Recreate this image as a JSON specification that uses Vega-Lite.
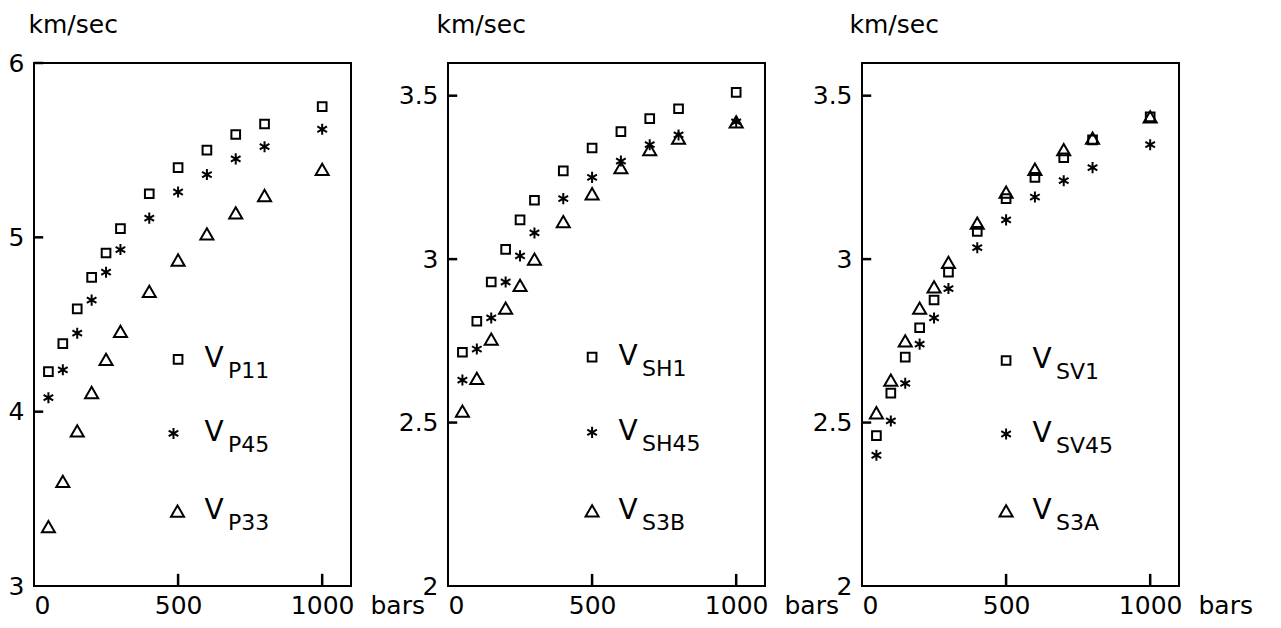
{
  "$schema": "https://vega.github.io/schema/vega-lite/v6.json",
  "background": "white",
  "padding": {"left": 7, "top": 11, "right": 5, "bottom": 5},
  "spacing": 97,
  "bounds": "flush",
  "config": {
    "font": "DejaVu Sans",
    "view": {"stroke": "black", "strokeWidth": 2},
    "axis": {
      "domain": false, "grid": false, "ticks": false,
      "labelFont": "DejaVu Sans", "labelFontSize": 25, "labelColor": "black",
      "titleFont": "DejaVu Sans", "titleFontSize": 25, "titleFontWeight": "normal", "titleColor": "black"
    }
  },
  "datasets": {
    "p1": [
      {"pressure": 50, "velocity": 4.23, "kind": "sq"}, {"pressure": 100, "velocity": 4.39, "kind": "sq"},
      {"pressure": 150, "velocity": 4.59, "kind": "sq"}, {"pressure": 200, "velocity": 4.77, "kind": "sq"},
      {"pressure": 250, "velocity": 4.91, "kind": "sq"}, {"pressure": 300, "velocity": 5.05, "kind": "sq"},
      {"pressure": 400, "velocity": 5.25, "kind": "sq"}, {"pressure": 500, "velocity": 5.40, "kind": "sq"},
      {"pressure": 600, "velocity": 5.50, "kind": "sq"}, {"pressure": 700, "velocity": 5.59, "kind": "sq"},
      {"pressure": 800, "velocity": 5.65, "kind": "sq"}, {"pressure": 1000, "velocity": 5.75, "kind": "sq"},
      {"pressure": 50, "velocity": 4.08, "kind": "st"}, {"pressure": 100, "velocity": 4.24, "kind": "st"},
      {"pressure": 150, "velocity": 4.45, "kind": "st"}, {"pressure": 200, "velocity": 4.64, "kind": "st"},
      {"pressure": 250, "velocity": 4.80, "kind": "st"}, {"pressure": 300, "velocity": 4.93, "kind": "st"},
      {"pressure": 400, "velocity": 5.11, "kind": "st"}, {"pressure": 500, "velocity": 5.26, "kind": "st"},
      {"pressure": 600, "velocity": 5.36, "kind": "st"}, {"pressure": 700, "velocity": 5.45, "kind": "st"},
      {"pressure": 800, "velocity": 5.52, "kind": "st"}, {"pressure": 1000, "velocity": 5.62, "kind": "st"},
      {"pressure": 50, "velocity": 3.34, "kind": "tr"}, {"pressure": 100, "velocity": 3.60, "kind": "tr"},
      {"pressure": 150, "velocity": 3.89, "kind": "tr"}, {"pressure": 200, "velocity": 4.11, "kind": "tr"},
      {"pressure": 250, "velocity": 4.30, "kind": "tr"}, {"pressure": 300, "velocity": 4.46, "kind": "tr"},
      {"pressure": 400, "velocity": 4.69, "kind": "tr"}, {"pressure": 500, "velocity": 4.87, "kind": "tr"},
      {"pressure": 600, "velocity": 5.02, "kind": "tr"}, {"pressure": 700, "velocity": 5.14, "kind": "tr"},
      {"pressure": 800, "velocity": 5.24, "kind": "tr"}, {"pressure": 1000, "velocity": 5.39, "kind": "tr"}
    ],
    "p2": [
      {"pressure": 50, "velocity": 2.715, "kind": "sq"}, {"pressure": 100, "velocity": 2.81, "kind": "sq"},
      {"pressure": 150, "velocity": 2.93, "kind": "sq"}, {"pressure": 200, "velocity": 3.03, "kind": "sq"},
      {"pressure": 250, "velocity": 3.12, "kind": "sq"}, {"pressure": 300, "velocity": 3.18, "kind": "sq"},
      {"pressure": 400, "velocity": 3.27, "kind": "sq"}, {"pressure": 500, "velocity": 3.34, "kind": "sq"},
      {"pressure": 600, "velocity": 3.39, "kind": "sq"}, {"pressure": 700, "velocity": 3.43, "kind": "sq"},
      {"pressure": 800, "velocity": 3.46, "kind": "sq"}, {"pressure": 1000, "velocity": 3.51, "kind": "sq"},
      {"pressure": 50, "velocity": 2.63, "kind": "st"}, {"pressure": 100, "velocity": 2.725, "kind": "st"},
      {"pressure": 150, "velocity": 2.82, "kind": "st"}, {"pressure": 200, "velocity": 2.93, "kind": "st"},
      {"pressure": 250, "velocity": 3.01, "kind": "st"}, {"pressure": 300, "velocity": 3.08, "kind": "st"},
      {"pressure": 400, "velocity": 3.185, "kind": "st"}, {"pressure": 500, "velocity": 3.25, "kind": "st"},
      {"pressure": 600, "velocity": 3.30, "kind": "st"}, {"pressure": 700, "velocity": 3.35, "kind": "st"},
      {"pressure": 800, "velocity": 3.38, "kind": "st"}, {"pressure": 1000, "velocity": 3.42, "kind": "st"},
      {"pressure": 50, "velocity": 2.535, "kind": "tr"}, {"pressure": 100, "velocity": 2.635, "kind": "tr"},
      {"pressure": 150, "velocity": 2.755, "kind": "tr"}, {"pressure": 200, "velocity": 2.85, "kind": "tr"},
      {"pressure": 250, "velocity": 2.92, "kind": "tr"}, {"pressure": 300, "velocity": 3.00, "kind": "tr"},
      {"pressure": 400, "velocity": 3.115, "kind": "tr"}, {"pressure": 500, "velocity": 3.20, "kind": "tr"},
      {"pressure": 600, "velocity": 3.28, "kind": "tr"}, {"pressure": 700, "velocity": 3.335, "kind": "tr"},
      {"pressure": 800, "velocity": 3.37, "kind": "tr"}, {"pressure": 1000, "velocity": 3.42, "kind": "tr"}
    ],
    "p3": [
      {"pressure": 50, "velocity": 2.46, "kind": "sq"}, {"pressure": 100, "velocity": 2.59, "kind": "sq"},
      {"pressure": 150, "velocity": 2.70, "kind": "sq"}, {"pressure": 200, "velocity": 2.79, "kind": "sq"},
      {"pressure": 250, "velocity": 2.875, "kind": "sq"}, {"pressure": 300, "velocity": 2.96, "kind": "sq"},
      {"pressure": 400, "velocity": 3.085, "kind": "sq"}, {"pressure": 500, "velocity": 3.185, "kind": "sq"},
      {"pressure": 600, "velocity": 3.25, "kind": "sq"}, {"pressure": 700, "velocity": 3.31, "kind": "sq"},
      {"pressure": 800, "velocity": 3.365, "kind": "sq"}, {"pressure": 1000, "velocity": 3.435, "kind": "sq"},
      {"pressure": 50, "velocity": 2.40, "kind": "st"}, {"pressure": 100, "velocity": 2.505, "kind": "st"},
      {"pressure": 150, "velocity": 2.62, "kind": "st"}, {"pressure": 200, "velocity": 2.74, "kind": "st"},
      {"pressure": 250, "velocity": 2.82, "kind": "st"}, {"pressure": 300, "velocity": 2.91, "kind": "st"},
      {"pressure": 400, "velocity": 3.035, "kind": "st"}, {"pressure": 500, "velocity": 3.12, "kind": "st"},
      {"pressure": 600, "velocity": 3.19, "kind": "st"}, {"pressure": 700, "velocity": 3.24, "kind": "st"},
      {"pressure": 800, "velocity": 3.28, "kind": "st"}, {"pressure": 1000, "velocity": 3.35, "kind": "st"},
      {"pressure": 50, "velocity": 2.53, "kind": "tr"}, {"pressure": 100, "velocity": 2.63, "kind": "tr"},
      {"pressure": 150, "velocity": 2.75, "kind": "tr"}, {"pressure": 200, "velocity": 2.85, "kind": "tr"},
      {"pressure": 250, "velocity": 2.915, "kind": "tr"}, {"pressure": 300, "velocity": 2.99, "kind": "tr"},
      {"pressure": 400, "velocity": 3.11, "kind": "tr"}, {"pressure": 500, "velocity": 3.205, "kind": "tr"},
      {"pressure": 600, "velocity": 3.275, "kind": "tr"}, {"pressure": 700, "velocity": 3.335, "kind": "tr"},
      {"pressure": 800, "velocity": 3.37, "kind": "tr"}, {"pressure": 1000, "velocity": 3.435, "kind": "tr"}
    ],
    "leg1": [
      {"kind": "sq", "mx": 500, "tx": 500, "y": 4.30, "sub": "P11"},
      {"kind": "st", "mx": 484, "tx": 500, "y": 3.875, "sub": "P45"},
      {"kind": "tr", "mx": 498, "tx": 500, "y": 3.43, "sub": "P33"}
    ],
    "leg2": [
      {"kind": "sq", "mx": 500, "tx": 500, "y": 2.70, "sub": "SH1"},
      {"kind": "st", "mx": 500, "tx": 500, "y": 2.47, "sub": "SH45"},
      {"kind": "tr", "mx": 500, "tx": 500, "y": 2.23, "sub": "S3B"}
    ],
    "leg3": [
      {"kind": "sq", "mx": 500, "tx": 500, "y": 2.69, "sub": "SV1"},
      {"kind": "st", "mx": 500, "tx": 500, "y": 2.465, "sub": "SV45"},
      {"kind": "tr", "mx": 500, "tx": 500, "y": 2.23, "sub": "S3A"}
    ],
    "yt1": [{"v": 4}, {"v": 5}, {"v": 6}],
    "yt23": [{"v": 2.5}, {"v": 3}, {"v": 3.5}],
    "xt": [{"v": 500}, {"v": 1000}]
  },
  "hconcat": [
    {
      "width": 317, "height": 523,
      "layer": [
        {
          "data": {"name": "p1"},
          "mark": {"type": "point", "filled": false, "stroke": "black", "strokeWidth": 2, "opacity": 1},
          "encoding": {
            "x": {"field": "pressure", "type": "quantitative", "scale": {"domain": [0, 1100], "nice": false},
                  "axis": {"values": [0, 500, 1000], "format": "d", "labelPadding": 7, "title": "bars", "titleX": 336, "titleY": 19, "titleAlign": "left", "titleBaseline": "middle"}},
            "y": {"field": "velocity", "type": "quantitative", "scale": {"domain": [3, 6], "nice": false, "zero": false},
                  "axis": {"values": [3, 4, 5, 6], "format": "~g", "labelPadding": 10, "title": "km/sec", "titleAngle": 0, "titleAlign": "left", "titleBaseline": "middle", "titleX": -6, "titleY": -39}},
            "shape": {"field": "kind", "type": "nominal", "scale": {"domain": ["sq", "st", "tr"], "range": ["square", "M0,-1L0,1M-0.87,-0.5L0.87,0.5M-0.87,0.5L0.87,-0.5", "triangle-up"]}, "legend": null},
            "size": {"field": "kind", "type": "nominal", "scale": {"domain": ["sq", "st", "tr"], "range": [75, 170, 80]}, "legend": null}
          }
        },
        {
          "data": {"name": "yt1"},
          "mark": {"type": "rule", "stroke": "#000000", "strokeWidth": 2.5, "opacity": 1},
          "encoding": {"y": {"field": "v", "type": "quantitative"}, "x": {"datum": 0}, "x2": {"datum": 32}}
        },
        {
          "data": {"name": "xt"},
          "mark": {"type": "rule", "stroke": "#000000", "strokeWidth": 2.5, "opacity": 1},
          "encoding": {"x": {"field": "v", "type": "quantitative"}, "y": {"datum": 3}, "y2": {"datum": 3.07}}
        },
        {
          "data": {"name": "leg1"},
          "mark": {"type": "point", "filled": false, "stroke": "black", "strokeWidth": 2, "opacity": 1},
          "encoding": {
            "x": {"field": "mx", "type": "quantitative"},
            "y": {"field": "y", "type": "quantitative"},
            "shape": {"field": "kind", "type": "nominal", "legend": null},
            "size": {"field": "kind", "type": "nominal", "legend": null}
          }
        },
        {
          "data": {"name": "leg1"},
          "mark": {"type": "text", "text": "V", "dx": 36, "align": "center", "baseline": "middle", "fontSize": 28, "color": "black"},
          "encoding": {"x": {"field": "tx", "type": "quantitative"}, "y": {"field": "y", "type": "quantitative"}}
        },
        {
          "data": {"name": "leg1"},
          "mark": {"type": "text", "dx": 50, "dy": 12, "align": "left", "baseline": "middle", "fontSize": 22, "color": "black"},
          "encoding": {"x": {"field": "tx", "type": "quantitative"}, "y": {"field": "y", "type": "quantitative"}, "text": {"field": "sub"}}
        }
      ]
    },
    {
      "width": 317, "height": 523,
      "layer": [
        {
          "data": {"name": "p2"},
          "mark": {"type": "point", "filled": false, "stroke": "black", "strokeWidth": 2, "opacity": 1},
          "encoding": {
            "x": {"field": "pressure", "type": "quantitative", "scale": {"domain": [0, 1100], "nice": false},
                  "axis": {"values": [0, 500, 1000], "format": "d", "labelPadding": 7, "title": "bars", "titleX": 336, "titleY": 19, "titleAlign": "left", "titleBaseline": "middle"}},
            "y": {"field": "velocity", "type": "quantitative", "scale": {"domain": [2, 3.6], "nice": false, "zero": false},
                  "axis": {"values": [2, 2.5, 3, 3.5], "format": "~g", "labelPadding": 10, "title": "km/sec", "titleAngle": 0, "titleAlign": "left", "titleBaseline": "middle", "titleX": -12, "titleY": -39}},
            "shape": {"field": "kind", "type": "nominal", "scale": {"domain": ["sq", "st", "tr"], "range": ["square", "M0,-1L0,1M-0.87,-0.5L0.87,0.5M-0.87,0.5L0.87,-0.5", "triangle-up"]}, "legend": null},
            "size": {"field": "kind", "type": "nominal", "scale": {"domain": ["sq", "st", "tr"], "range": [75, 170, 80]}, "legend": null}
          }
        },
        {
          "data": {"name": "yt23"},
          "mark": {"type": "rule", "stroke": "#000000", "strokeWidth": 2.5, "opacity": 1},
          "encoding": {"y": {"field": "v", "type": "quantitative"}, "x": {"datum": 0}, "x2": {"datum": 32}}
        },
        {
          "data": {"name": "xt"},
          "mark": {"type": "rule", "stroke": "#000000", "strokeWidth": 2.5, "opacity": 1},
          "encoding": {"x": {"field": "v", "type": "quantitative"}, "y": {"datum": 2}, "y2": {"datum": 2.037}}
        },
        {
          "data": {"name": "leg2"},
          "mark": {"type": "point", "filled": false, "stroke": "black", "strokeWidth": 2, "opacity": 1},
          "encoding": {
            "x": {"field": "mx", "type": "quantitative"},
            "y": {"field": "y", "type": "quantitative"},
            "shape": {"field": "kind", "type": "nominal", "legend": null},
            "size": {"field": "kind", "type": "nominal", "legend": null}
          }
        },
        {
          "data": {"name": "leg2"},
          "mark": {"type": "text", "text": "V", "dx": 36, "align": "center", "baseline": "middle", "fontSize": 28, "color": "black"},
          "encoding": {"x": {"field": "tx", "type": "quantitative"}, "y": {"field": "y", "type": "quantitative"}}
        },
        {
          "data": {"name": "leg2"},
          "mark": {"type": "text", "dx": 50, "dy": 12, "align": "left", "baseline": "middle", "fontSize": 22, "color": "black"},
          "encoding": {"x": {"field": "tx", "type": "quantitative"}, "y": {"field": "y", "type": "quantitative"}, "text": {"field": "sub"}}
        }
      ]
    },
    {
      "width": 317, "height": 523,
      "layer": [
        {
          "data": {"name": "p3"},
          "mark": {"type": "point", "filled": false, "stroke": "black", "strokeWidth": 2, "opacity": 1},
          "encoding": {
            "x": {"field": "pressure", "type": "quantitative", "scale": {"domain": [0, 1100], "nice": false},
                  "axis": {"values": [0, 500, 1000], "format": "d", "labelPadding": 7, "title": "bars", "titleX": 336, "titleY": 19, "titleAlign": "left", "titleBaseline": "middle"}},
            "y": {"field": "velocity", "type": "quantitative", "scale": {"domain": [2, 3.6], "nice": false, "zero": false},
                  "axis": {"values": [2, 2.5, 3, 3.5], "format": "~g", "labelPadding": 10, "title": "km/sec", "titleAngle": 0, "titleAlign": "left", "titleBaseline": "middle", "titleX": -13, "titleY": -39}},
            "shape": {"field": "kind", "type": "nominal", "scale": {"domain": ["sq", "st", "tr"], "range": ["square", "M0,-1L0,1M-0.87,-0.5L0.87,0.5M-0.87,0.5L0.87,-0.5", "triangle-up"]}, "legend": null},
            "size": {"field": "kind", "type": "nominal", "scale": {"domain": ["sq", "st", "tr"], "range": [75, 170, 80]}, "legend": null}
          }
        },
        {
          "data": {"name": "yt23"},
          "mark": {"type": "rule", "stroke": "#000000", "strokeWidth": 2.5, "opacity": 1},
          "encoding": {"y": {"field": "v", "type": "quantitative"}, "x": {"datum": 0}, "x2": {"datum": 32}}
        },
        {
          "data": {"name": "xt"},
          "mark": {"type": "rule", "stroke": "#000000", "strokeWidth": 2.5, "opacity": 1},
          "encoding": {"x": {"field": "v", "type": "quantitative"}, "y": {"datum": 2}, "y2": {"datum": 2.037}}
        },
        {
          "data": {"name": "leg3"},
          "mark": {"type": "point", "filled": false, "stroke": "black", "strokeWidth": 2, "opacity": 1},
          "encoding": {
            "x": {"field": "mx", "type": "quantitative"},
            "y": {"field": "y", "type": "quantitative"},
            "shape": {"field": "kind", "type": "nominal", "legend": null},
            "size": {"field": "kind", "type": "nominal", "legend": null}
          }
        },
        {
          "data": {"name": "leg3"},
          "mark": {"type": "text", "text": "V", "dx": 36, "align": "center", "baseline": "middle", "fontSize": 28, "color": "black"},
          "encoding": {"x": {"field": "tx", "type": "quantitative"}, "y": {"field": "y", "type": "quantitative"}}
        },
        {
          "data": {"name": "leg3"},
          "mark": {"type": "text", "dx": 50, "dy": 12, "align": "left", "baseline": "middle", "fontSize": 22, "color": "black"},
          "encoding": {"x": {"field": "tx", "type": "quantitative"}, "y": {"field": "y", "type": "quantitative"}, "text": {"field": "sub"}}
        }
      ]
    }
  ]
}
